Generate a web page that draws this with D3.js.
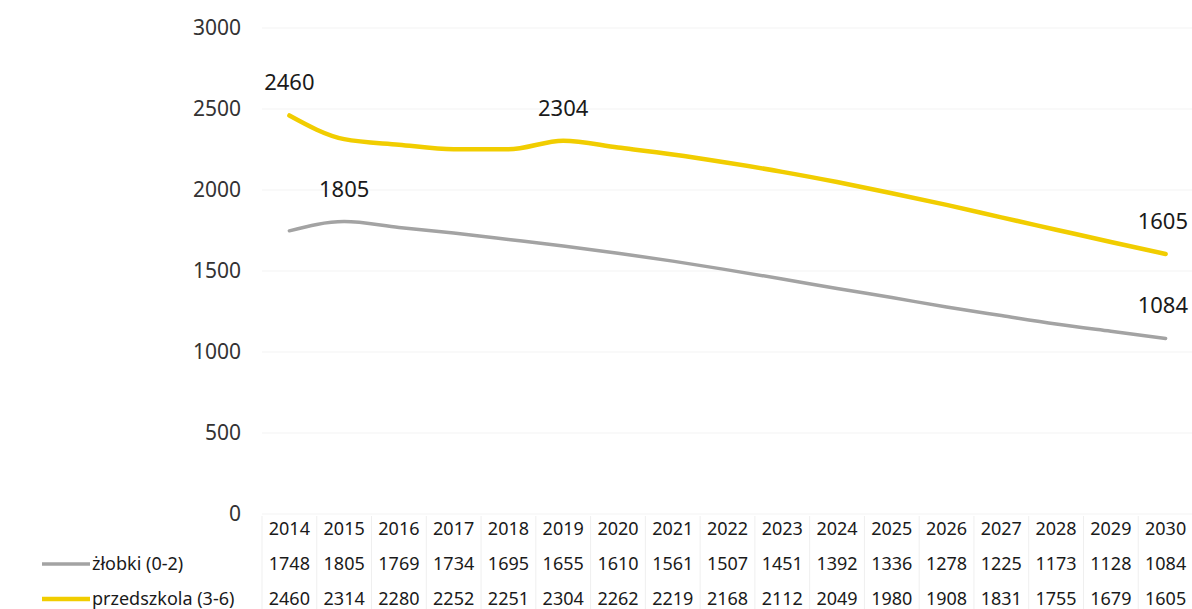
<!DOCTYPE html>
<html>
<head>
<meta charset="utf-8">
<script src="https://cdn.jsdelivr.net/npm/d3@7"></script>
<style>
  html, body { margin: 0; padding: 0; background: #fff; }
  svg { display: block; font-family: "Noto Sans", "Open Sans", sans-serif; }
</style>
</head>
<body>
<svg id="chart" width="1192" height="609"></svg>
<script>
const years = ["2014","2015","2016","2017","2018","2019","2020","2021","2022","2023","2024","2025","2026","2027","2028","2029","2030"];
const zlobki = [1748,1805,1769,1734,1695,1655,1610,1561,1507,1451,1392,1336,1278,1225,1173,1128,1084];
const przedszkola = [2460,2314,2280,2252,2251,2304,2262,2219,2168,2112,2049,1980,1908,1831,1755,1679,1605];
const seriesNames = ["żłobki (0-2)", "przedszkola (3-6)"];
const yTicks = [0,500,1000,1500,2000,2500,3000];
const zlobkiLabelIdx = [1, 16];
const przedszkolaLabelIdx = [0, 5, 16];

const svg = d3.select("#chart");
const plotLeft = 262, plotRight = 1193, plotTop = 28, plotBottom = 514;

const x = d3.scaleBand().domain(years).range([plotLeft, plotRight]).padding(0);
const y = d3.scaleLinear().domain([0, 3000]).range([plotBottom, plotTop]);
const cx = d => x(d) + x.bandwidth() / 2;

// gridlines
svg.append("g").selectAll("line").data(yTicks).join("line")
  .attr("x1", plotLeft).attr("x2", plotRight)
  .attr("y1", d => y(d)).attr("y2", d => y(d))
  .attr("stroke", "#f3f3f3").attr("stroke-width", 1);

// y axis labels
const yAxis = d3.axisLeft(y).tickValues(yTicks).tickFormat(d3.format("d")).tickSize(0).tickPadding(0);
const ya = svg.append("g").attr("transform", `translate(241,0)`).call(yAxis);
ya.select(".domain").remove();
ya.selectAll("text").attr("font-size", 21).attr("fill", "#333").attr("font-family", "Noto Sans");

// table vertical separators
svg.append("g").selectAll("line").data(d3.range(years.length)).join("line")
  .attr("x1", i => x(years[i])).attr("x2", i => x(years[i]))
  .attr("y1", plotBottom + 2).attr("y2", 609)
  .attr("stroke", "#efefef").attr("stroke-width", 1);

// lines
const line = d3.line().x((d, i) => cx(years[i])).y(d => y(d)).curve(d3.curveMonotoneX);
svg.append("path").datum(zlobki).attr("d", line)
  .attr("fill", "none").attr("stroke", "#a3a3a3").attr("stroke-width", 3.5).attr("stroke-linecap", "round");
svg.append("path").datum(przedszkola).attr("d", line)
  .attr("fill", "none").attr("stroke", "#f1cd00").attr("stroke-width", 4.5).attr("stroke-linecap", "round");

// data labels
function labels(data, idx) {
  svg.append("g").selectAll("text").data(idx).join("text")
    .attr("x", i => i === years.length - 1 ? 1188 : cx(years[i]))
    .attr("y", i => y(data[i]) - 25)
    .attr("text-anchor", i => i === years.length - 1 ? "end" : "middle")
    .attr("font-size", 22).attr("fill", "#1a1a1a")
    .text(i => data[i]);
}
labels(przedszkola, przedszkolaLabelIdx);
labels(zlobki, zlobkiLabelIdx);

// table rows
const rowY = [529, 564, 599];
svg.append("g").selectAll("text").data(years).join("text")
  .attr("x", d => cx(d)).attr("y", rowY[0]).attr("dy", "0.35em")
  .attr("text-anchor", "middle").attr("font-size", 18).attr("fill", "#1a1a1a").text(d => d);
[zlobki, przedszkola].forEach((arr, r) => {
  svg.append("g").selectAll("text").data(arr).join("text")
    .attr("x", (d, i) => cx(years[i])).attr("y", rowY[r + 1]).attr("dy", "0.35em")
    .attr("text-anchor", "middle").attr("font-size", 18).attr("fill", "#1a1a1a").text(d => d);
});

// legend keys in table
const legColors = ["#a3a3a3", "#f1cd00"];
const legWidths = [3.5, 4.5];
seriesNames.forEach((name, r) => {
  svg.append("line").attr("x1", 42).attr("x2", 90)
    .attr("y1", rowY[r + 1]).attr("y2", rowY[r + 1])
    .attr("stroke", legColors[r]).attr("stroke-width", legWidths[r]);
  svg.append("text").attr("x", 92).attr("y", rowY[r + 1]).attr("dy", "0.35em")
    .attr("font-size", 18).attr("fill", "#1a1a1a").text(name);
});
</script>
</body>
</html>
